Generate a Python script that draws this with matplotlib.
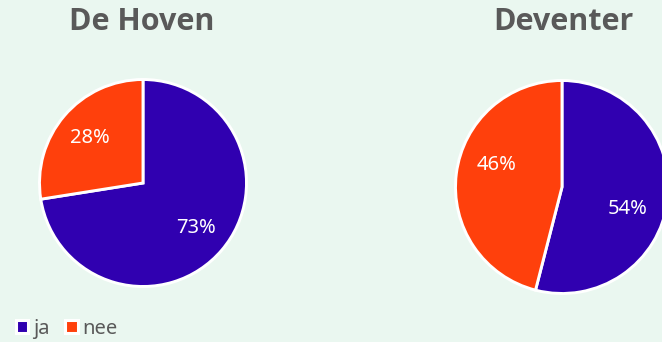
import numpy as np
import matplotlib.pyplot as plt

categories = ['ja', 'nee']
hoven_values = [72.5, 27.5]
hoven_labels = ['73%', '28%']
deventer_values = [54, 46]
deventer_labels = ['54%', '46%']
titles = ['De Hoven', 'Deventer']

colors = ['#3000B0', '#FF400C']
bg = '#EAF7F0'
grey = '#595959'

plt.rcParams['font.family'] = ['Noto Sans', 'DejaVu Sans']

W, H = 662, 342
fig = plt.figure(figsize=(W / 100, H / 100), dpi=100, facecolor=bg)


def pie_axes(cx, cy, r):
    # cx, cy in pixels from the top-left corner
    ax = fig.add_axes([(cx - r) / W, (H - cy - r) / H, 2 * r / W, 2 * r / H])
    ax.set_facecolor(bg)
    return ax


ax1 = pie_axes(143, 183, 103.5)
ax2 = pie_axes(562, 187, 106.5)

# (axes, values, labels, label distance, label angle shift in degrees)
for ax, vals, labs, dist, shift in [(ax1, hoven_values, hoven_labels, 0.67, 0),
                                    (ax2, deventer_values, deventer_labels, 0.65, -11)]:
    wedges, _ = ax.pie(vals, colors=colors, startangle=90, counterclock=False,
                       wedgeprops=dict(edgecolor='white', linewidth=2.1))
    for w, lab in zip(wedges, labs):
        w.set_clip_on(False)
        mid = np.deg2rad((w.theta1 + w.theta2) / 2 + shift)
        ax.text(dist * np.cos(mid), dist * np.sin(mid), lab, ha='center', va='center',
                color='white', fontsize=14.5)
    ax.set_xlim(-1, 1)
    ax.set_ylim(-1, 1)
    ax.axis('off')

fig.text(141.5 / W, 1 - 21.5 / H, titles[0], ha='center', va='center',
         fontsize=22, fontweight='bold', color=grey, family=['Open Sans', 'DejaVu Sans'])
fig.text(563 / W, 1 - 21.5 / H, titles[1], ha='center', va='center',
         fontsize=22, fontweight='bold', color=grey, family=['Open Sans', 'DejaVu Sans'])

handles = [plt.Rectangle((0, 0), 1, 1, facecolor=c, edgecolor='white', linewidth=2.2)
           for c in colors]
fig.legend(handles, categories, loc='center left',
           bbox_to_anchor=(16 / W, 1 - 329 / H), frameon=False,
           borderpad=0, borderaxespad=0,
           ncol=2, fontsize=14.5, labelcolor=grey,
           handlelength=0.62, handleheight=0.62, handletextpad=0.25,
           columnspacing=0.75)

fig.savefig('out.png', dpi=100, facecolor=bg)
